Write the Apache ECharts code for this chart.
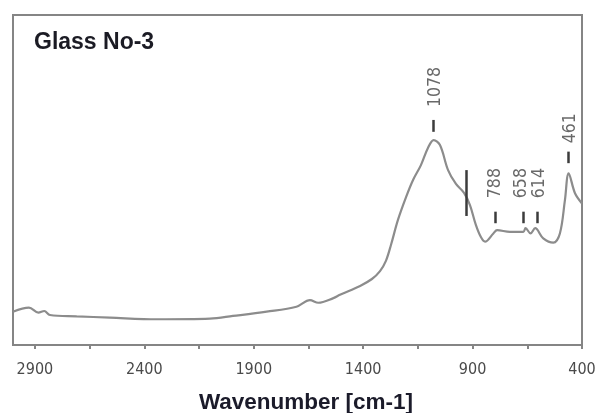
<!DOCTYPE html>
<html>
<head>
<meta charset="utf-8">
<title>Glass No-3</title>
<script src="https://cdn.jsdelivr.net/npm/echarts@6/dist/echarts.min.js"></script>
<style>
  html, body { margin: 0; padding: 0; background: #fff; }
  #chart { width: 597px; height: 413px; }
</style>
</head>
<body>
<div id="chart"></div>
<script>
// spectrum (arbitrary absorbance units, 0..100)
var wavenumber = [3000, 2927, 2884, 2857, 2831, 2709, 2557, 2342, 2100, 1995, 1841, 1705, 1643, 1605, 1536, 1506,
  1414, 1360, 1323, 1296, 1273, 1241, 1204, 1172, 1136, 1104, 1078, 1049, 1012, 976, 939, 912, 885, 862, 843,
  805, 788, 729, 668, 658, 635, 614, 577, 531, 501, 478, 461, 432, 400];
var absorbance = [10.1, 11.3, 9.8, 10.3, 9.1, 8.7, 8.3, 7.8, 8.0, 8.8, 10.1, 11.6, 13.6, 12.8, 14.2, 15.2,
  17.9, 20.0, 22.4, 25.5, 30.3, 37.9, 44.8, 50.0, 54.5, 59.7, 62.1, 60.6, 53.0, 48.8, 46.1, 42.4, 36.4, 32.7, 31.3,
  33.8, 34.8, 34.3, 34.3, 35.4, 33.8, 35.4, 32.3, 31.0, 33.8, 43.9, 52.0, 46.0, 42.9];

// peak markers: tick position, label position, heights
var peakNames = ['1078', '788', '658', '614', '461'];
var tickWn = [1078, 795, 668, 606, 463];
var labelWn = [1070, 795, 676, 594, 455];
var tickTop = [68.2, 40.4, 40.4, 40.4, 58.6];
var tickBottom = [64.6, 36.9, 36.9, 36.9, 55.1];
var labelBase = [72.1, 44.5, 44.5, 44.5, 61.1];
// shoulder bar
var shoulderWn = 930;
var shoulderRange = [53.0, 39.1];

var xTicks = [2900, 2650, 2400, 2150, 1900, 1650, 1400, 1150, 900, 650, 400];
var xLabels = [2900, 2400, 1900, 1400, 900, 400];

var chart = echarts.init(document.getElementById('chart'));

var spectrum = wavenumber.map(function (w, i) { return [w, absorbance[i]]; });

var markSegs = tickWn.map(function (w, i) {
  return [{ coord: [w, tickTop[i]] }, { coord: [w, tickBottom[i]] }];
});
markSegs.push([{ coord: [shoulderWn, shoulderRange[0]] }, { coord: [shoulderWn, shoulderRange[1]] }]);

var option = {
  backgroundColor: '#fff',
  animation: false,
  title: {
    text: 'Glass No-3',
    left: 34,
    top: 31,
    padding: 0,
    textStyle: { fontFamily: 'Liberation Sans', fontWeight: 'bold', fontSize: 23, color: '#1b1b24' }
  },
  grid: {
    left: 13, right: 15, top: 15, bottom: 68,
    outerBoundsMode: 'none',
    containLabel: false,
    show: true, borderColor: '#858585', borderWidth: 2
  },
  xAxis: {
    type: 'value',
    min: 400,
    max: 3000,
    inverse: true,
    name: 'Wavenumber [cm-1]',
    nameLocation: 'middle',
    nameGap: 46,
    nameTextStyle: {
      fontFamily: 'Liberation Sans', fontWeight: 'bold', fontSize: 22.5, color: '#1b1b2a',
      padding: [0, 0, 0, 17]
    },
    axisLine: { lineStyle: { color: '#858585', width: 2 } },
    axisTick: { show: true, length: 4, customValues: xTicks, lineStyle: { color: '#858585', width: 2 } },
    axisLabel: {
      customValues: xLabels, margin: 17,
      formatter: function (v) { return String(v); },
      fontFamily: 'DejaVu Sans Condensed', fontSize: 16, color: '#4a4a4a'
    },
    splitLine: { show: false }
  },
  yAxis: {
    type: 'value', min: 0, max: 100, show: false
  },
  series: [
    {
      type: 'line',
      data: spectrum,
      smooth: 0.35,
      symbol: 'none',
      lineStyle: { color: '#8c8c8c', width: 2.2 },
      markLine: {
        silent: true,
        symbol: ['none', 'none'],
        label: { show: false },
        lineStyle: { color: '#3c3c3c', width: 2.5, type: 'solid' },
        data: markSegs
      }
    },
    {
      type: 'scatter',
      symbolSize: 1,
      itemStyle: { color: 'rgba(0,0,0,0)' },
      data: labelWn.map(function (w, i) { return { value: [w, labelBase[i]], name: peakNames[i] }; }),
      label: {
        show: true,
        position: 'inside',
        rotate: 90,
        align: 'left',
        verticalAlign: 'middle',
        formatter: '{b}',
        fontFamily: 'DejaVu Sans Condensed',
        fontSize: 17.5,
        color: '#444'
      }
    }
  ]
};
chart.setOption(option);
</script>
</body>
</html>
